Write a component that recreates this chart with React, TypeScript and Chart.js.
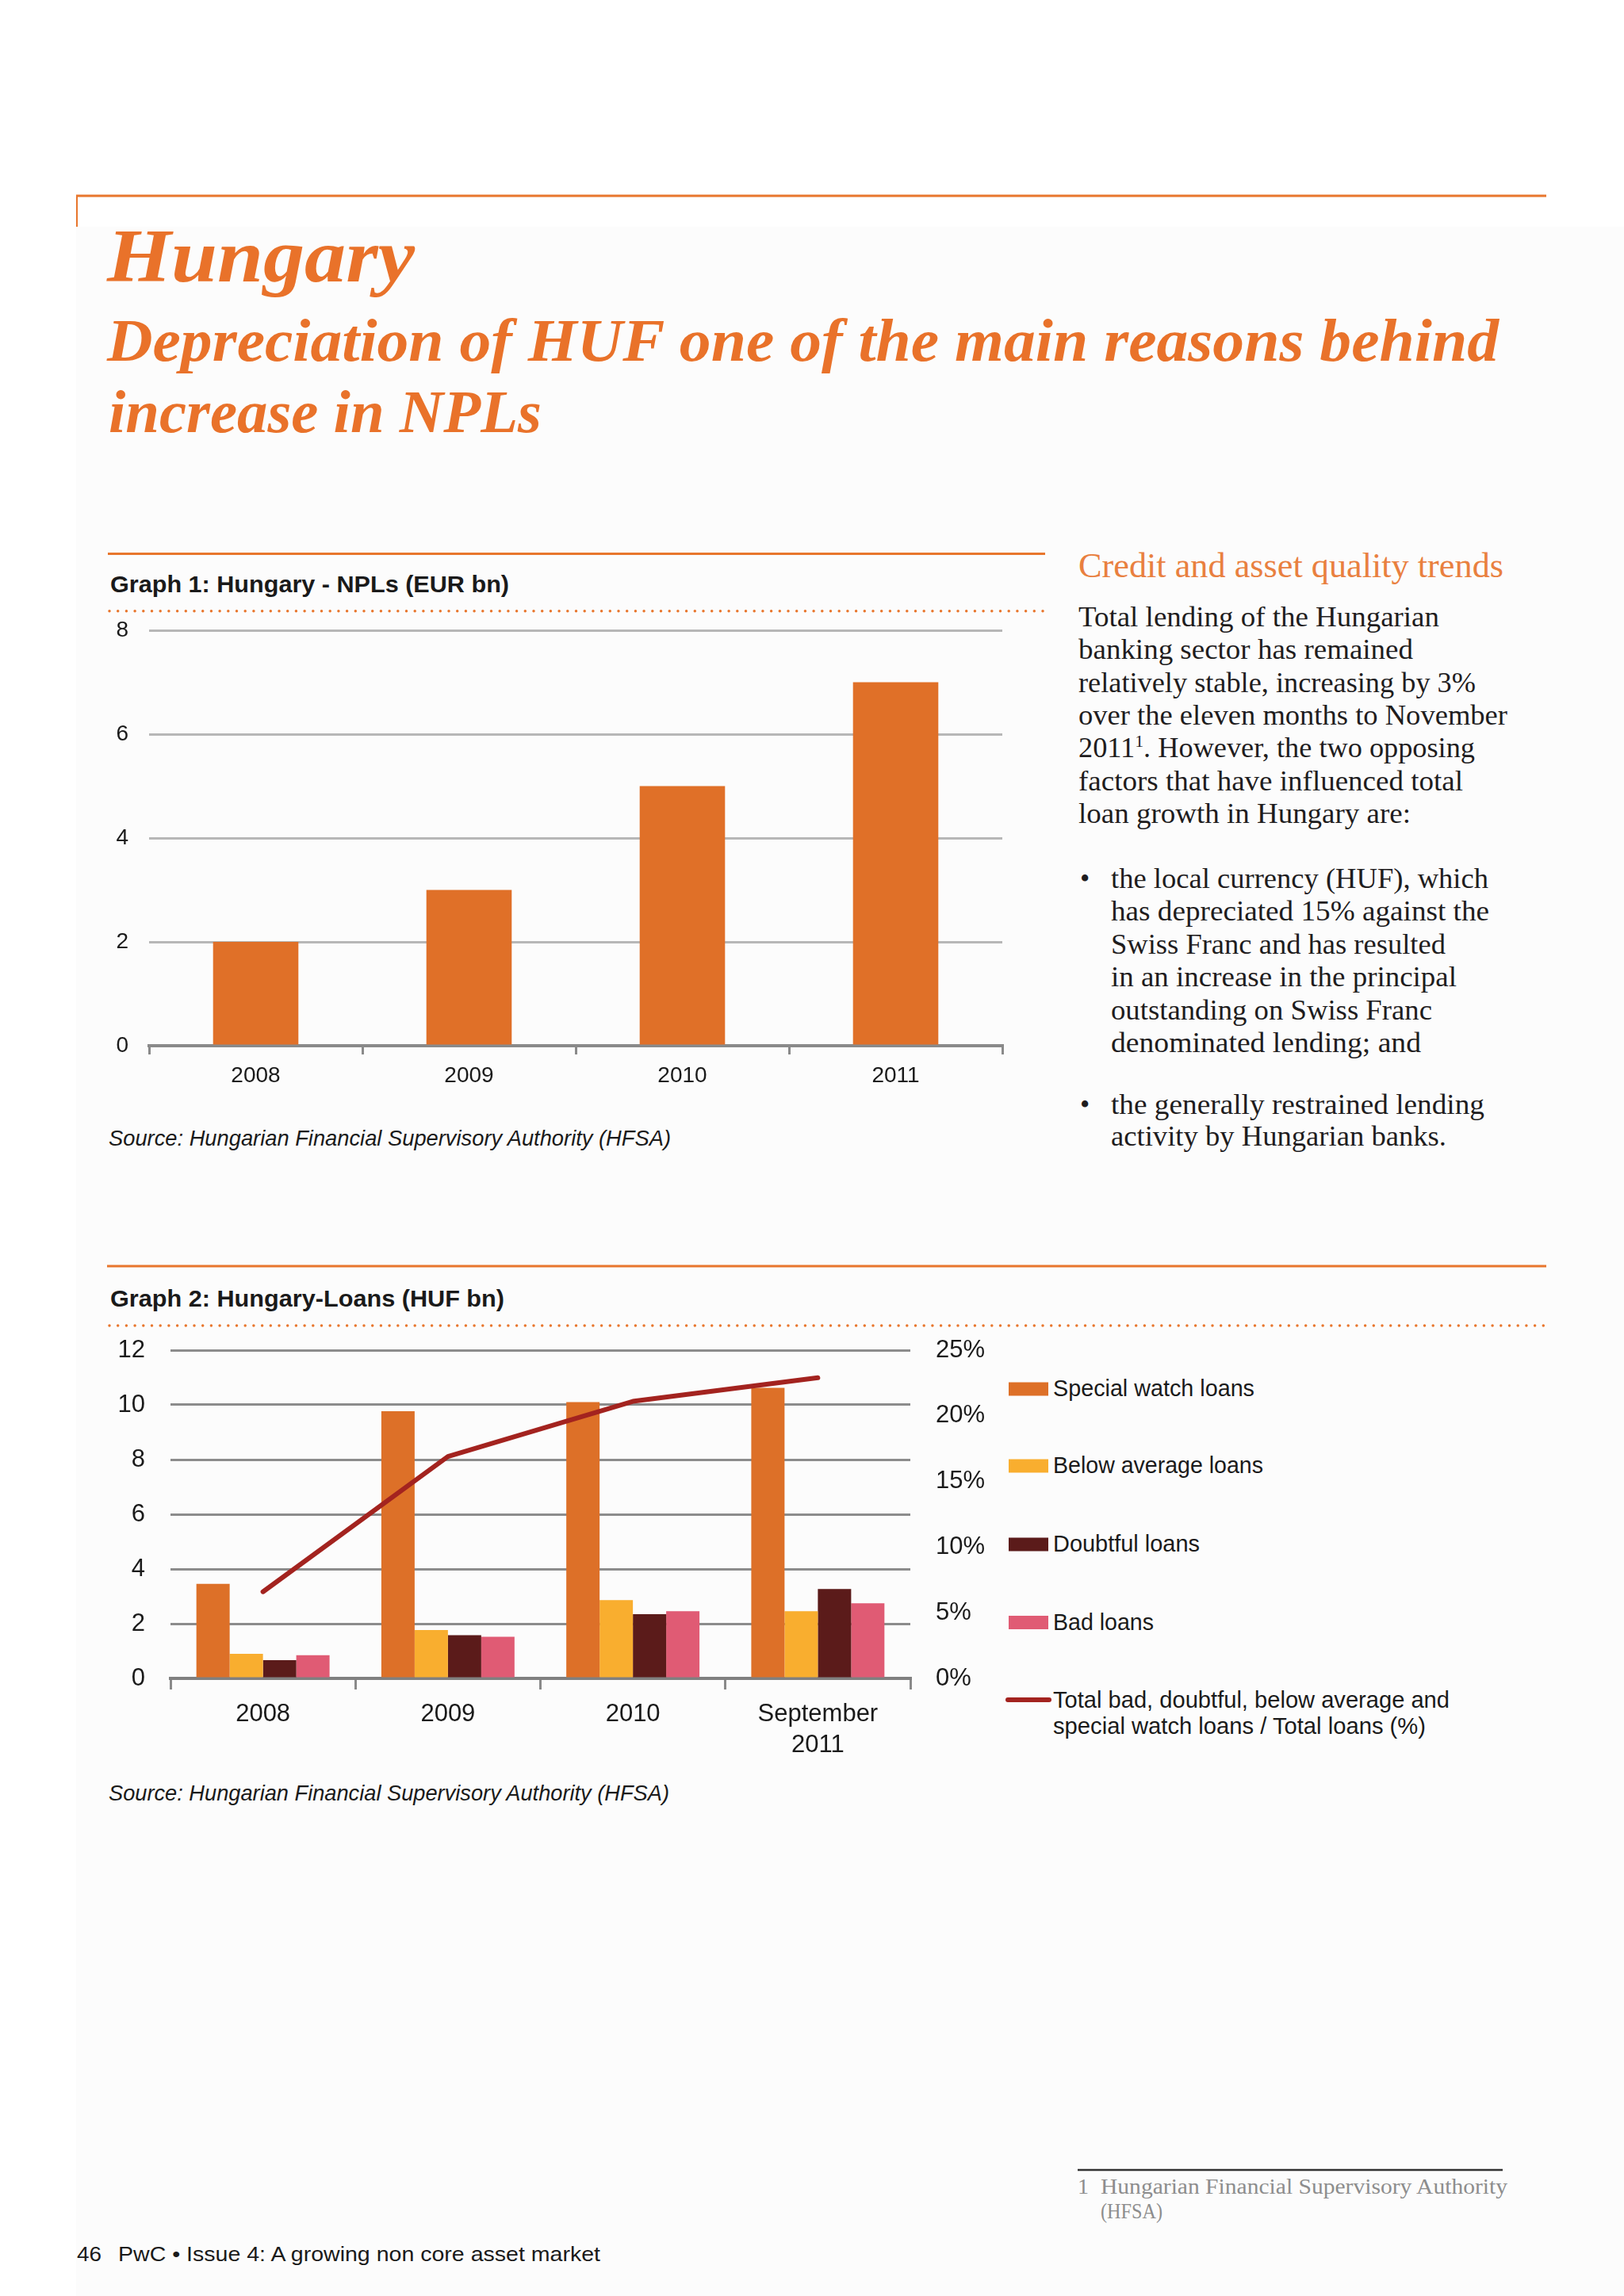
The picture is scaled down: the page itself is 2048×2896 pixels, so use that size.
import React, { useEffect, useRef } from 'react';
import { Chart, registerables } from 'chart.js';

Chart.register(...registerables);

// ---------- Graph 1 data ----------
const nplYears = ['2008', '2009', '2010', '2011'];
const nplValues = [2, 3, 5, 7];

// ---------- Graph 2 data ----------
const loanCategories = [['2008'], ['2009'], ['2010'], ['September', '2011']];
const specialWatch = [3.46, 9.77, 10.1, 10.62];
const belowAverage = [0.9, 1.77, 2.86, 2.46];
const doubtful = [0.67, 1.58, 2.35, 3.27];
const badLoans = [0.85, 1.52, 2.46, 2.75];
const totalRatio = [6.6, 16.9, 21.1, 22.9];
const seriesNames = ['Special watch loans', 'Below average loans', 'Doubtful loans', 'Bad loans'];
const ratioName = ['Total bad, doubtful, below average and', 'special watch loans / Total loans (%)'];
const seriesColors = ['#dd7028', '#f9ae2f', '#5b1b1a', '#e05b74'];
const ratioColor = '#a3231f';

const sans = "'Liberation Sans', Arial, Helvetica, sans-serif";
const serif = "'Liberation Serif', 'Times New Roman', serif";
const ORANGE = '#e9722a';
const INK = '#1a1a1a';

function ChartCanvas({ config, left, top, width, height }: any) {
  const ref = useRef<HTMLCanvasElement>(null);
  useEffect(() => {
    const chart = new Chart(ref.current as HTMLCanvasElement, config);
    return () => chart.destroy();
  }, []);
  return (
    <canvas
      ref={ref}
      width={width}
      height={height}
      style={{ position: 'absolute', left, top, width, height }}
    />
  );
}

const fixW = (w: number) => (s: any) => {
  s.width = w;
  s.paddingTop = 0;
  s.paddingBottom = 0;
};
const fixH = (h: number) => (s: any) => {
  s.height = h;
  s.paddingLeft = 0;
  s.paddingRight = 0;
};

const config1: any = {
  type: 'bar',
  data: {
    labels: nplYears,
    datasets: [
      {
        label: 'NPLs (EUR bn)',
        data: nplValues,
        backgroundColor: '#e07028',
        barPercentage: 0.4,
        categoryPercentage: 1,
      },
    ],
  },
  options: {
    responsive: false,
    animation: false,
    devicePixelRatio: 1,
    layout: { padding: { top: 25, right: 36, left: 0, bottom: 0 } },
    plugins: { legend: { display: false }, tooltip: { enabled: false } },
    scales: {
      x: {
        grid: { offset: true, drawOnChartArea: false, drawTicks: true, tickLength: 11, color: '#8a8a8a', lineWidth: 3 },
        border: { display: true, color: '#8a8a8a', width: 4 },
        ticks: { color: INK, font: { family: sans, size: 28 }, padding: 10 },
        afterFit: fixH(71),
      },
      y: {
        min: 0,
        max: 8,
        ticks: { stepSize: 2, color: INK, font: { family: sans, size: 28 }, padding: 26 },
        grid: {
          color: (c: any) => (c.tick && c.tick.value === 0 ? 'rgba(0,0,0,0)' : '#b7b7b7'),
          lineWidth: 3,
          drawTicks: false,
        },
        border: { display: false },
        afterFit: fixW(88),
      },
    },
  },
};

const barSeries = [specialWatch, belowAverage, doubtful, badLoans];

const config2: any = {
  type: 'bar',
  data: {
    labels: loanCategories,
    datasets: [
      {
        type: 'line',
        label: ratioName.join(' '),
        data: totalRatio,
        yAxisID: 'y1',
        borderColor: ratioColor,
        backgroundColor: ratioColor,
        borderWidth: 6,
        pointRadius: 0,
        borderCapStyle: 'round',
        borderJoinStyle: 'round',
        tension: 0,
        order: 0,
      },
      ...seriesNames.map((n, i) => ({
        type: 'bar',
        label: n,
        data: barSeries[i],
        backgroundColor: seriesColors[i],
        yAxisID: 'y',
        barPercentage: 1,
        categoryPercentage: 0.72,
        order: 1,
      })),
    ],
  },
  options: {
    responsive: false,
    animation: false,
    devicePixelRatio: 1,
    layout: { padding: { top: 23, right: 0, left: 0, bottom: 0 } },
    plugins: { legend: { display: false }, tooltip: { enabled: false } },
    scales: {
      x: {
        grid: { offset: true, drawOnChartArea: false, drawTicks: true, tickLength: 14, color: '#8a8a8a', lineWidth: 3 },
        border: { display: true, color: '#808080', width: 4 },
        ticks: { color: INK, font: { family: sans, size: 31, lineHeight: 1.26 }, padding: 12 },
        afterFit: fixH(123),
      },
      y: {
        min: 0,
        max: 12,
        ticks: { stepSize: 2, color: INK, font: { family: sans, size: 31 }, padding: 32 },
        grid: {
          color: (c: any) => (c.tick && c.tick.value === 0 ? 'rgba(0,0,0,0)' : '#8c8c8c'),
          lineWidth: 3,
          drawTicks: false,
        },
        border: { display: false },
        afterFit: fixW(115),
      },
      y1: {
        position: 'right',
        min: 0,
        max: 25,
        ticks: { stepSize: 5, color: INK, font: { family: sans, size: 31 }, padding: 32, callback: (v: any) => v + '%' },
        grid: { display: false, drawOnChartArea: false, drawTicks: false },
        border: { display: false },
        afterFit: fixW(132),
      },
    },
  },
};

function T({ x, y, s, w, f = sans, wt = 400, it = false, c = INK, children }: any) {
  return (
    <text
      x={x}
      y={y}
      fontFamily={f}
      fontSize={s}
      fontWeight={wt}
      fontStyle={it ? 'italic' : 'normal'}
      fill={c}
      textLength={w}
      lengthAdjust="spacingAndGlyphs"
    >
      {children}
    </text>
  );
}

const introLines: [string, number][] = [
  ['Total lending of the Hungarian', 455],
  ['banking sector has remained', 422],
  ['relatively stable, increasing by 3%', 501],
  ['over the eleven months to November', 541],
  ['', 500],
  ['factors that have influenced total', 485],
  ['loan growth in Hungary are:', 419],
];
const bullet1Lines: [string, number][] = [
  ['the local currency (HUF), which', 476],
  ['has depreciated 15% against the', 477],
  ['Swiss Franc and has resulted', 422],
  ['in an increase in the principal', 436],
  ['outstanding on Swiss Franc', 405],
  ['denominated lending; and', 391],
];
const bullet2Lines: [string, number][] = [
  ['the generally restrained lending', 471],
  ['activity by Hungarian banks.', 423],
];
const legendTops = [1743.5, 1840.5, 1939.5, 2038];
const legendWidths = [254, 265, 185, 127];

export default function App() {
  const bodySize = 35;
  const bodyC = '#1f1d1e';
  return (
    <div style={{ position: 'absolute', left: 0, top: 0, width: 2048, height: 2896, background: '#ffffff', overflow: 'hidden' }}>
      <div style={{ position: 'absolute', left: 96, top: 286, right: 0, bottom: 0, background: '#fcfcfc' }} />
      <svg width={2048} height={2896} style={{ position: 'absolute', left: 0, top: 0 }}>
        {/* top rule */}
        <line x1={96} y1={247} x2={1950} y2={247} stroke="#e8762d" strokeWidth={3} />
        <line x1={97} y1={246} x2={97} y2={286} stroke="#e8762d" strokeWidth={2} />

        <T x={135} y={355} s={96} w={388} f={serif} wt={700} it c={ORANGE}>Hungary</T>
        <T x={135} y={455} s={76} w={1755} f={serif} wt={700} it c={ORANGE}>Depreciation of HUF one of the main reasons behind</T>
        <T x={137} y={545} s={76} w={546} f={serif} wt={700} it c={ORANGE}>increase in NPLs</T>

        {/* Graph 1 header */}
        <line x1={136} y1={698.5} x2={1318} y2={698.5} stroke="#e8762d" strokeWidth={3} />
        <T x={139} y={747} s={30} w={503} wt={700}>Graph 1: Hungary - NPLs (EUR bn)</T>
        <line x1={138} y1={770.7} x2={1318} y2={770.7} stroke="#e8762d" strokeWidth={3.5} strokeLinecap="round" strokeDasharray="0 10.7" />
        <T x={137} y={1445} s={28} w={709} it>Source: Hungarian Financial Supervisory Authority (HFSA)</T>

        {/* Right column */}
        <T x={1360} y={728} s={44} w={536} f={serif} c="#e9803f">Credit and asset quality trends</T>
        {introLines.map(([t, w], i) =>
          i === 4 ? (
            <text key={i} x={1360} y={790 + i * 41.3} fontFamily={serif} fontSize={bodySize} fill={bodyC} textLength={w} lengthAdjust="spacingAndGlyphs">
              2011<tspan dy={-13} fontSize={21}>1</tspan><tspan dy={13}>. However, the two opposing</tspan>
            </text>
          ) : (
            <T key={i} x={1360} y={790 + i * 41.3} s={bodySize} w={w} f={serif} c={bodyC}>{t}</T>
          )
        )}
        <text x={1362} y={1120} fontFamily={serif} fontSize={bodySize} fill={bodyC}>•</text>
        {bullet1Lines.map(([t, w], i) => (
          <T key={'b1' + i} x={1401} y={1120 + i * 41.4} s={bodySize} w={w} f={serif} c={bodyC}>{t}</T>
        ))}
        <text x={1362} y={1404.5} fontFamily={serif} fontSize={bodySize} fill={bodyC}>•</text>
        {bullet2Lines.map(([t, w], i) => (
          <T key={'b2' + i} x={1401} y={1404.5 + i * 40.5} s={bodySize} w={w} f={serif} c={bodyC}>{t}</T>
        ))}

        {/* Graph 2 header */}
        <line x1={135} y1={1597} x2={1950} y2={1597} stroke="#e8762d" strokeWidth={3} />
        <T x={139} y={1648} s={30} w={497} wt={700}>Graph 2: Hungary-Loans (HUF bn)</T>
        <line x1={138} y1={1672} x2={1950} y2={1672} stroke="#e8762d" strokeWidth={3.5} strokeLinecap="round" strokeDasharray="0 10.7" />
        <T x={137} y={2271} s={28} w={707} it>Source: Hungarian Financial Supervisory Authority (HFSA)</T>

        {/* Graph 2 legend */}
        {seriesNames.map((n, i) => (
          <g key={n}>
            <rect x={1272} y={legendTops[i]} width={50} height={17} fill={seriesColors[i]} />
            <T x={1328} y={legendTops[i] + 17.5} s={29} w={legendWidths[i]}>{n}</T>
          </g>
        ))}
        <line x1={1271} y1={2144} x2={1323} y2={2144} stroke={ratioColor} strokeWidth={6} strokeLinecap="round" />
        <T x={1328} y={2154} s={29} w={500}>{ratioName[0]}</T>
        <T x={1328} y={2187} s={29} w={470}>{ratioName[1]}</T>

        {/* footnote */}
        <line x1={1359} y1={2737} x2={1895} y2={2737} stroke="#333333" strokeWidth={2.5} />
        <text x={1359} y={2767} fontFamily={serif} fontSize={28} fill="#8d8d8d">1</text>
        <T x={1388} y={2767} s={28} w={513} f={serif} c="#8d8d8d">Hungarian Financial Supervisory Authority</T>
        <T x={1388} y={2798} s={28} w={78} f={serif} c="#8d8d8d">(HFSA)</T>

        {/* page footer */}
        <T x={97} y={2852} s={25} w={31}>46</T>
        <T x={149} y={2852} s={25} w={608}>PwC • Issue 4: A growing non core asset market</T>
      </svg>

      <ChartCanvas config={config1} left={100} top={770} width={1200} height={620} />
      <ChartCanvas config={config2} left={100} top={1680} width={1180} height={560} />
    </div>
  );
}
